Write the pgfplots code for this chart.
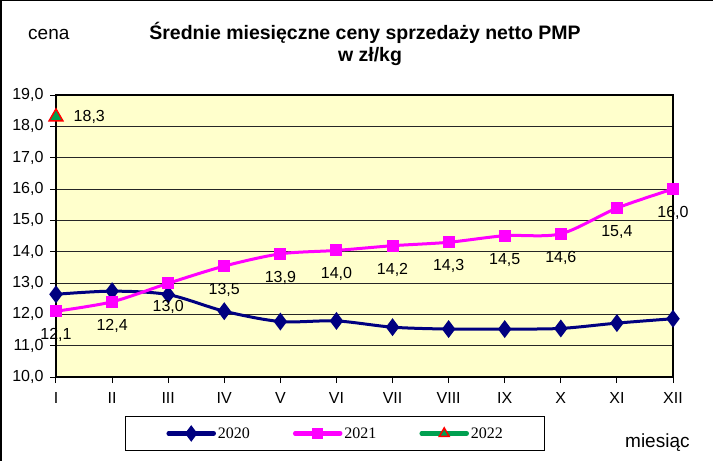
\documentclass[border=0pt]{standalone}
\usepackage{pgfplots}
\pgfplotsset{compat=1.18}
\usepackage{fontspec}
\setmainfont{Liberation Sans}
\newfontfamily\timesfont{Liberation Serif}
\definecolor{navyc}{RGB}{0,0,128}
\definecolor{magc}{RGB}{255,0,255}
\definecolor{greenc}{RGB}{0,160,80}
\definecolor{bgc}{RGB}{255,255,204}
\begin{document}
\begin{tikzpicture}
\useasboundingbox (0pt,0pt) rectangle (713pt,461pt);
\draw[line width=1.5pt] (0.75pt,0pt) -- (0.75pt,460.25pt) -- (713pt,460.25pt);
\node[anchor=base,font=\bfseries\fontsize{19.5}{22}\selectfont] at (365pt,421pt) {Średnie miesięczne ceny sprzedaży netto PMP};
\node[anchor=base,font=\bfseries\fontsize{19.5}{22}\selectfont] at (370pt,399pt) {w zł/kg};
\node[anchor=base west,inner sep=0pt,font=\fontsize{19}{22}\selectfont] at (28pt,421pt) {cena};
\node[anchor=base west,inner sep=0pt,font=\fontsize{19}{22}\selectfont] at (625pt,13pt) {miesiąc};
\begin{axis}[
  at={(56pt,84pt)}, anchor=south west,
  scale only axis, width=617pt, height=282pt,
  xmin=1, xmax=12, ymin=10, ymax=19,
  xtick={1,...,12},
  xticklabels={I,II,III,IV,V,VI,VII,VIII,IX,X,XI,XII},
  ytick={10,11,...,19},
  axis background/.style={fill=bgc},
  ymajorgrids,
  major grid style={black!85, line width=0.8pt},
  axis line style={line width=1.5pt, black},
  tick align=outside, major tick length=6pt,
  tick style={black, line width=1pt},
  tick pos=left,
  /pgf/number format/assume math mode=true,
  yticklabel style={/pgf/number format/.cd, fixed, fixed zerofill, precision=1, use comma, /tikz/.cd, xshift=-3pt},
  xticklabel style={yshift=-6pt},
  ticklabel style={font=\fontsize{16}{19}\selectfont},
  clip=false,
  legend style={at={(axis description cs:0.1118,-0.138)}, anchor=north west,
    legend columns=3, draw=black, line width=1pt, fill=white,
    inner xsep=41pt, inner ysep=10pt,
    nodes={inner sep=1pt},
    font=\timesfont\fontsize{16}{19}\selectfont,
    /tikz/every odd column/.append style={column sep=1pt},
    /tikz/every even column/.append style={column sep=42pt}},
  legend image code/.code={\draw[mark repeat=2,mark phase=2,line cap=round,#1,line width=4.5pt,every mark/.append style={scale=0.7}] plot coordinates {(0pt,0pt) (22.5pt,0pt) (45pt,0pt)};},
]
\addplot[color=navyc, line width=3pt, smooth, tension=0.5, mark=diamond*, mark size=6.5pt, mark options={solid, fill=navyc}]
  coordinates {(1,12.64) (2,12.74) (3,12.63) (4,12.10) (5,11.77) (6,11.79) (7,11.59) (8,11.53) (9,11.53) (10,11.55) (11,11.72) (12,11.86)};
\addlegendentry{2020}
\addplot[color=magc, line width=3pt, smooth, tension=0.5, mark=square*, mark size=4.5pt, mark options={solid, fill=magc},
  nodes near coords={\pgfmathprintnumber[fixed,fixed zerofill,precision=1,use comma]{\pgfplotspointmeta}},
  every node near coord/.append style={anchor=center, yshift=-24pt, text=black, font=\fontsize{16}{19}\selectfont}]
  coordinates {(1,12.1) (2,12.4) (3,12.99) (4,13.54) (5,13.93) (6,14.04) (7,14.19) (8,14.3) (9,14.51) (10,14.57) (11,15.39) (12,16.0)};
\addlegendentry{2021}
\addplot[color=greenc, line width=4pt, mark=triangle*, mark size=8pt, mark options={solid, draw=red, fill=greenc, line width=1.5pt},
  nodes near coords={\pgfmathprintnumber[fixed,fixed zerofill,precision=1,use comma]{\pgfplotspointmeta}},
  every node near coord/.append style={anchor=west, inner sep=0pt, xshift=17pt, text=black, font=\fontsize{16}{19}\selectfont}]
  coordinates {(1,18.3)};
\addlegendentry{2022}
\end{axis}
\end{tikzpicture}
\end{document}
